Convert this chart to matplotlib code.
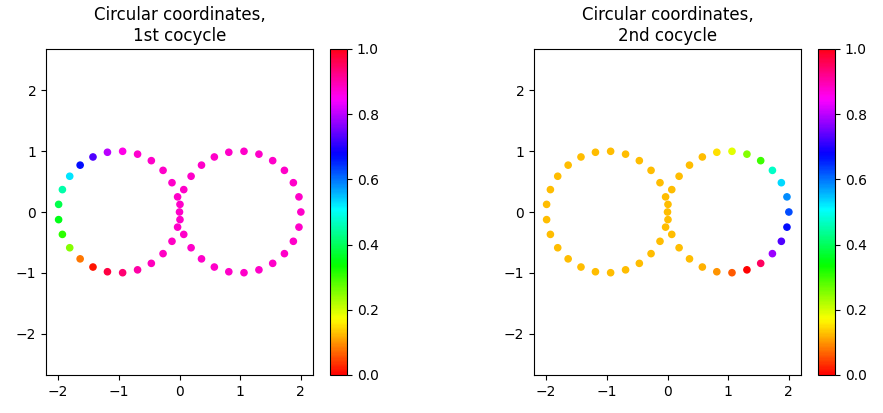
import numpy as np
import matplotlib
matplotlib.use("Agg")
import matplotlib.pyplot as plt

# Point angles (degrees) on each circle
angles = [0, 14.4, 28.8, 43.2, 57.6, 72, 86.4, 100.8, 115.2, 129.6, 144, 158.4, 172.8,
          187.2, 201.6, 216, 230.4, 244.8, 259.2, 273.6, 288, 302.4, 316.8, 331.2, 345.6]
centers = [-1.0, 1.0]

# Circular coordinate values, 1st cocycle (left circle, then right circle)
cocycle1_left = [0.88, 0.88, 0.88, 0.88, 0.88, 0.875, 0.86, 0.80, 0.73, 0.67, 0.525, 0.45, 0.39,
                 0.355, 0.31, 0.25, 0.08, 0.013, 0.97, 0.94, 0.905, 0.89, 0.885, 0.885, 0.88]
cocycle1_right = [0.88] * 25

# Circular coordinate values, 2nd cocycle
cocycle2_left = [0.125] * 25
cocycle2_right = [0.625, 0.585, 0.535, 0.47, 0.30, 0.25, 0.19, 0.15, 0.127, 0.125, 0.125, 0.125, 0.125,
                  0.125, 0.125, 0.125, 0.125, 0.12, 0.10, 0.06, 0.0, 0.95, 0.78, 0.73, 0.67]

titles = ["Circular coordinates,\n1st cocycle", "Circular coordinates,\n2nd cocycle"]

# build the figure eight point cloud
t = np.deg2rad(angles)
xs = np.concatenate([c + np.cos(t) for c in centers])
ys = np.concatenate([np.sin(t) for c in centers])
values = [cocycle1_left + cocycle1_right, cocycle2_left + cocycle2_right]

fig = plt.figure(figsize=(8.83, 4.13), dpi=100)
W, H = 883.0, 413.0
ax_boxes = [[46, 38, 267, 326], [534, 38, 267, 326]]
cb_boxes = [[330, 38, 17, 326], [818, 38, 17, 326]]

for i in range(2):
    b = ax_boxes[i]
    ax = fig.add_axes([b[0] / W, b[1] / H, b[2] / W, b[3] / H])
    sc = ax.scatter(xs, ys, c=values[i], cmap="hsv", vmin=0, vmax=1, s=20)
    ax.set_xlim(-2.2, 2.2)
    ax.set_ylim(-2.68, 2.68)
    ax.set_xticks([-2, -1, 0, 1, 2])
    ax.set_yticks([-2, -1, 0, 1, 2])
    ax.set_title(titles[i], fontsize=12)
    c = cb_boxes[i]
    cax = fig.add_axes([c[0] / W, c[1] / H, c[2] / W, c[3] / H])
    fig.colorbar(sc, cax=cax, ticks=[0.0, 0.2, 0.4, 0.6, 0.8, 1.0])

plt.savefig("out.png", dpi=100)
